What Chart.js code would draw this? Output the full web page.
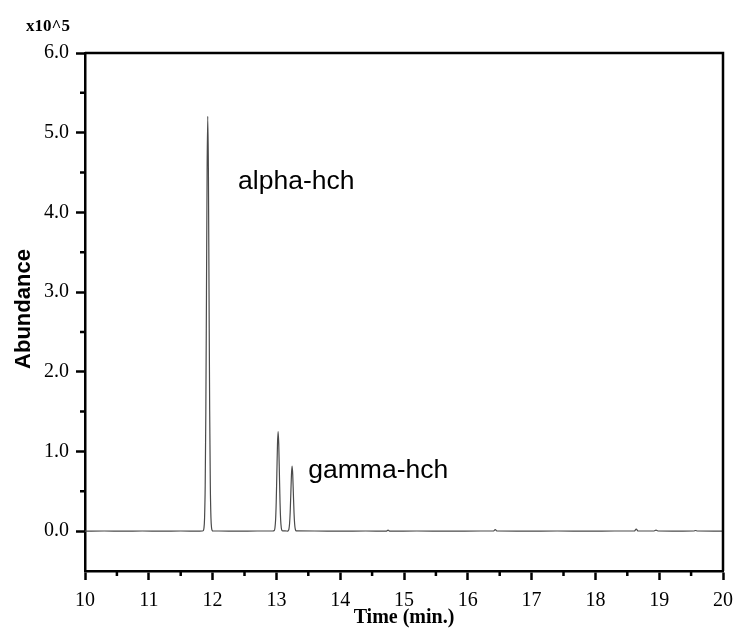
<!DOCTYPE html>
<html>
<head>
<meta charset="utf-8">
<script src="https://cdn.jsdelivr.net/npm/chart.js@4/dist/chart.umd.min.js"></script>
<style>
  html, body { margin: 0; padding: 0; background: #fff; }
  #wrap { width: 737px; height: 632px; }
</style>
</head>
<body>
<div id="wrap"><canvas id="c" width="737" height="632"></canvas></div>
<script>
// Retention time (min) and abundance (x10^5)
const times = [
  10.0, 10.3, 10.6, 10.9, 11.2, 11.5, 11.8, 11.84,
  11.854, 11.864, 11.874, 11.884, 11.894, 11.904, 11.914, 11.924, 11.934, 11.944, 11.954, 11.964, 11.974, 11.984, 11.994, 12.004,
  12.1, 12.4, 12.7, 12.94,
  12.967, 12.977, 12.987, 12.997, 13.007, 13.017, 13.027, 13.037, 13.047, 13.057, 13.067, 13.077, 13.087, 13.10,
  13.137,
  13.176, 13.186, 13.196, 13.206, 13.216, 13.226, 13.236, 13.246, 13.256, 13.266, 13.276, 13.286, 13.296, 13.306, 13.32,
  13.6, 14.0, 14.4, 14.72, 14.75, 14.78, 15.2, 15.7, 16.2, 16.40, 16.43, 16.46,
  16.9, 17.4, 17.9, 18.3, 18.61, 18.64, 18.67, 18.92, 18.95, 18.98, 19.3, 19.54, 19.57, 19.60, 20.0
];
const abundance = [
  0.0, 0.002, 0.0, 0.002, 0.0, 0.002, 0.0, 0.002,
  0.006, 0.036, 0.163, 0.57, 1.50, 2.99, 4.53, 5.205, 4.55, 3.02, 1.53, 0.59, 0.17, 0.04, 0.008, 0.002,
  0.002, 0.0, 0.002, 0.002,
  0.008, 0.039, 0.136, 0.36, 0.72, 1.09, 1.25, 1.09, 0.72, 0.36, 0.136, 0.04, 0.009, 0.003,
  0.003,
  0.001, 0.006, 0.026, 0.089, 0.235, 0.47, 0.71, 0.817, 0.71, 0.47, 0.235, 0.089, 0.026, 0.006, 0.003,
  0.002, 0.0, 0.002, 0.0, 0.012, 0.0, 0.002, 0.0, 0.002, 0.002, 0.02, 0.002,
  0.0, 0.002, 0.0, 0.002, 0.002, 0.025, 0.002, 0.002, 0.012, 0.002, 0.0, 0.002, 0.008, 0.002, 0.0
];
const xTickValues = [10, 11, 12, 13, 14, 15, 16, 17, 18, 19, 20];
const yTickValues = [0, 1, 2, 3, 4, 5, 6];
const xMinorValues = [10.5, 11.5, 12.5, 13.5, 14.5, 15.5, 16.5, 17.5, 18.5, 19.5];
const yMinorValues = [0.5, 1.5, 2.5, 3.5, 4.5, 5.5];
const peakLabels = [
  { text: 'alpha-hch', x: 12.40, y: 4.29 },
  { text: 'gamma-hch', x: 13.50, y: 0.67 }
];
const xTitle = 'Time (min.)';
const yTitle = 'Abundance';
const yUnit = 'x10^5';

const SERIF = '"Liberation Serif", "Times New Roman", serif';
const SANS = '"Liberation Sans", Arial, sans-serif';

const decor = {
  id: 'decor',
  afterDraw(chart) {
    const { ctx, chartArea: a, scales } = chart;
    const xs = scales.x, ys = scales.y;
    ctx.save();
    // top and right frame
    ctx.strokeStyle = '#000';
    ctx.lineWidth = 2.5;
    ctx.beginPath();
    ctx.moveTo(a.left, a.top);
    ctx.lineTo(a.right, a.top);
    ctx.lineTo(a.right, a.bottom);
    ctx.stroke();
    // minor ticks
    ctx.beginPath();
    xMinorValues.forEach(v => {
      const px = xs.getPixelForValue(v);
      ctx.moveTo(px, a.bottom);
      ctx.lineTo(px, a.bottom + 5);
    });
    yMinorValues.forEach(v => {
      const py = ys.getPixelForValue(v);
      ctx.moveTo(a.left, py);
      ctx.lineTo(a.left - 5, py);
    });
    ctx.stroke();
    // peak labels
    ctx.fillStyle = '#000';
    ctx.font = '26.5px ' + SANS;
    ctx.textAlign = 'left';
    ctx.textBaseline = 'alphabetic';
    peakLabels.forEach(p => {
      ctx.fillText(p.text, xs.getPixelForValue(p.x), ys.getPixelForValue(p.y));
    });
    // axis titles
    ctx.font = 'bold 20px ' + SERIF;
    ctx.textAlign = 'center';
    ctx.fillText(xTitle, (a.left + a.right) / 2, 623);
    ctx.save();
    ctx.translate(30, 309);
    ctx.rotate(-Math.PI / 2);
    ctx.font = 'bold 22px ' + SANS;
    ctx.fillText(yTitle, 0, 0);
    ctx.restore();
    // unit label
    ctx.font = 'bold 17px ' + SERIF;
    ctx.textAlign = 'left';
    ctx.fillText(yUnit, 26, 31);
    ctx.restore();
  }
};

new Chart(document.getElementById('c'), {
  type: 'line',
  data: {
    datasets: [{
      data: times.map((t, i) => ({ x: t, y: abundance[i] })),
      borderColor: '#4a4a4a',
      borderWidth: 1.2,
      borderJoinStyle: 'round',
      borderCapStyle: 'round',
      cubicInterpolationMode: 'monotone',
      pointRadius: 0,
      fill: false
    }]
  },
  options: {
    responsive: false,
    animation: false,
    events: [],
    layout: { padding: { left: 0, right: 14, top: 53, bottom: 0 } },
    plugins: { legend: { display: false }, tooltip: { enabled: false } },
    scales: {
      x: {
        type: 'linear',
        min: 10, max: 20,
        afterBuildTicks: s => { s.ticks = xTickValues.map(v => ({ value: v })); },
        afterFit: s => { s.height = 61; s.paddingLeft = 0; s.paddingRight = 0; },
        grid: { drawOnChartArea: false, drawTicks: true, tickLength: 9, tickColor: '#000', tickWidth: 2.5 },
        border: { display: true, color: '#000', width: 2.5 },
        ticks: {
          color: '#000', padding: 9,
          font: { family: SERIF, size: 20 },
          maxRotation: 0, autoSkip: false,
          callback: v => String(v)
        }
      },
      y: {
        type: 'linear',
        min: -0.5, max: 6,
        afterBuildTicks: s => { s.ticks = yTickValues.map(v => ({ value: v })); },
        afterFit: s => { s.width = 85; s.paddingTop = 0; s.paddingBottom = 0; },
        grid: { drawOnChartArea: false, drawTicks: true, tickLength: 9, tickColor: '#000', tickWidth: 2.5 },
        border: { display: true, color: '#000', width: 2.5 },
        ticks: {
          color: '#000', padding: 7,
          font: { family: SERIF, size: 20 },
          autoSkip: false,
          callback: v => Number(v).toFixed(1)
        }
      }
    }
  },
  plugins: [decor]
});
</script>
</body>
</html>
